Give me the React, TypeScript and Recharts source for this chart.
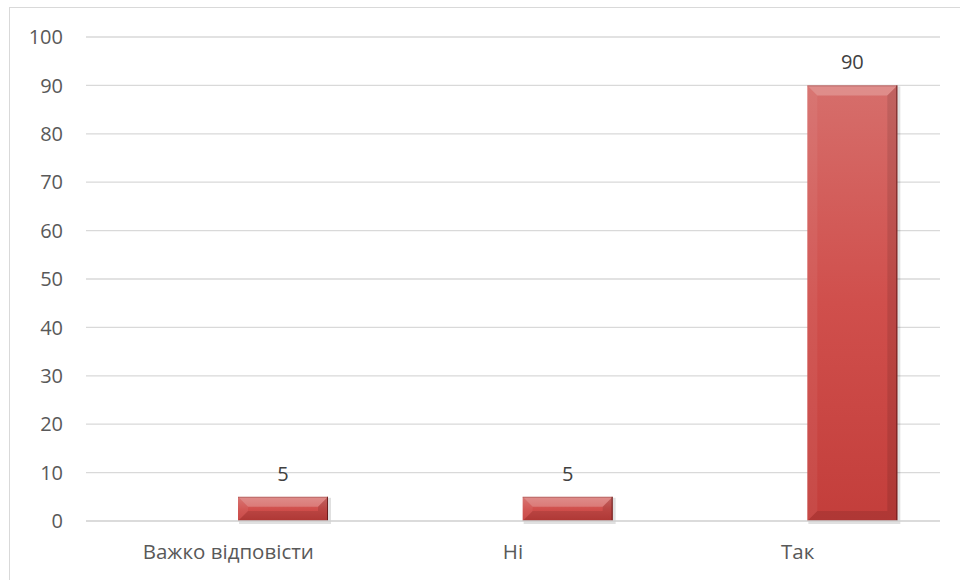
import React from 'react';
import { BarChart, Bar, XAxis, YAxis, CartesianGrid, LabelList } from 'recharts';

const categories = ['Важко відповісти', 'Ні', 'Так'];
const values = [5, 5, 90];
const yTicks = [0, 10, 20, 30, 40, 50, 60, 70, 80, 90, 100];

const data = categories.map((c, i) => ({ name: c, empty: null, value: values[i] }));

const FONT = '"Open Sans", "Liberation Sans", Arial, sans-serif';

const BevelBar = (props: any) => {
  const { x, y, width, height } = props;
  if (!height || height <= 0) return null;
  const b = Math.min(10, height / 2.4, width / 2);
  const x2 = x + width;
  const y2 = y + height;
  return (
    <g>
      <rect x={x + 1} y={y + 1} width={width + 2} height={height + 2} fill="#000" opacity={0.12} />
      <rect x={x} y={y} width={width} height={height} fill="url(#barGrad)" />
      <polygon points={`${x},${y} ${x2},${y} ${x2 - b},${y + b} ${x + b},${y + b}`} fill="#fff" opacity={0.22} />
      <polygon points={`${x},${y} ${x + b},${y + b} ${x + b},${y2 - b} ${x},${y2}`} fill="#fff" opacity={0.06} />
      <polygon points={`${x2},${y} ${x2},${y2} ${x2 - b},${y2 - b} ${x2 - b},${y + b}`} fill="#000" opacity={0.1} />
      <polygon points={`${x},${y2} ${x + b},${y2 - b} ${x2 - b},${y2 - b} ${x2},${y2}`} fill="#000" opacity={0.1} />
      <line x1={x2 - 0.5} y1={y} x2={x2 - 0.5} y2={y2} stroke="#5a1414" strokeWidth={1} opacity={0.8} />
      <line x1={x} y1={y2 - 0.5} x2={x2} y2={y2 - 0.5} stroke="#5a1414" strokeWidth={1} opacity={0.5} />
      <line x1={x} y1={y + 0.5} x2={x2} y2={y + 0.5} stroke="#7a2a2a" strokeWidth={1} opacity={0.35} />
    </g>
  );
};

export default function App() {
  return (
    <div style={{ position: 'absolute', left: 0, top: 0, width: 960, height: 580, overflow: 'hidden', background: '#fff' }}>
      <div style={{ position: 'absolute', left: 9, top: 7, width: 960, height: 580, border: '1px solid #d9d9d9', boxSizing: 'border-box' }} />
      <div style={{ position: 'absolute', left: 0, top: 0 }}>
        <BarChart
          width={960}
          height={580}
          data={data}
          margin={{ top: 37, right: 20, bottom: 0, left: 0 }}
          barGap={20}
        >
          <defs>
            <linearGradient id="barGrad" x1="0" y1="0" x2="0" y2="1">
              <stop offset="0%" stopColor="#d66e6b" />
              <stop offset="50%" stopColor="#d04f4c" />
              <stop offset="100%" stopColor="#c33e3b" />
            </linearGradient>
          </defs>
          <CartesianGrid vertical={false} stroke="#d9d9d9" strokeWidth={1.3} />
          <XAxis
            dataKey="name"
            height={59}
            axisLine={{ stroke: '#d9d9d9', strokeWidth: 1.3 }}
            tickLine={false}
            tickSize={0}
            tickMargin={23}
            tick={{ fill: '#595959', fontSize: 20.5, fontFamily: FONT }}
            interval={0}
          />
          <YAxis
            width={86}
            domain={[0, 100]}
            ticks={yTicks}
            axisLine={false}
            tickLine={false}
            tickSize={0}
            tickMargin={23}
            tick={{ fill: '#595959', fontSize: 20, fontFamily: FONT }}
          />
          <Bar dataKey="empty" barSize={90} isAnimationActive={false} fill="transparent" />
          <Bar dataKey="value" barSize={90} isAnimationActive={false} shape={<BevelBar />}>
            <LabelList dataKey="value" position="top" offset={16} fill="#404040" fontSize={20} fontFamily={FONT} />
          </Bar>
        </BarChart>
      </div>
    </div>
  );
}
